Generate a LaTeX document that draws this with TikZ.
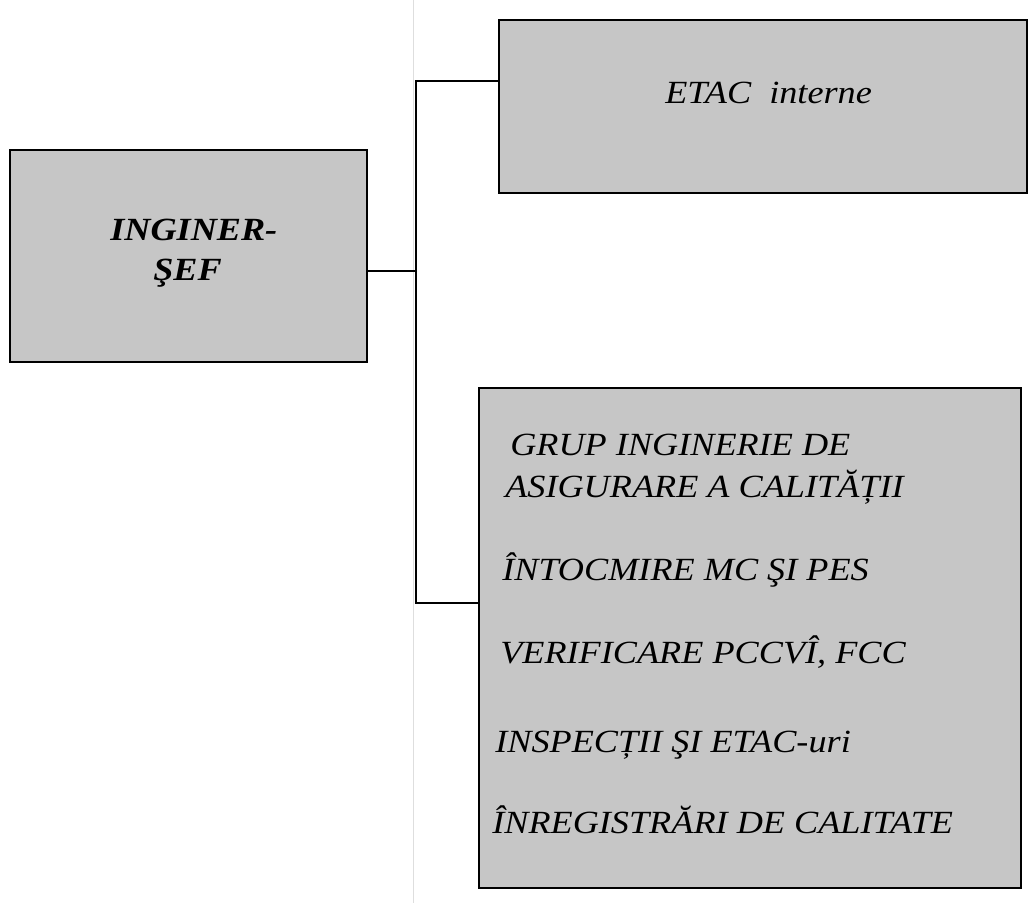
\documentclass[tikz,border=0pt]{standalone}
\usepackage{fontspec}
\setmainfont{Liberation Serif}[FakeStretch=1.12]
\definecolor{boxgray}{RGB}{198,198,198}
\definecolor{foldgray}{RGB}{222,222,222}
\tikzset{
  box/.style={draw=black, fill=boxgray, line width=0.05cm, inner sep=0pt},
  label/.style={anchor=base west, inner sep=0pt},
  link/.style={line width=0.05cm, line cap=round}
}
\begin{document}
\begin{tikzpicture}[x=0.025cm, y=-0.025cm]
                        \useasboundingbox (0,0) rectangle (1032,903);
                        {\fontsize{23}{27}\selectfont\itshape

                        % Scan fold line
                        \draw [foldgray, line width=0.02cm] (413,0) -- (413,903);%

                        % Drawing box INGINER-SEF
                        \draw (188.5,256) node (sef) [box, minimum width=8.925cm, minimum height=5.3cm] {};%
                        \draw (110,240) node (sefa) [label] {\bfseries INGINER-};%
                        \draw (153,280) node (sefb) [label] {\bfseries ŞEF};%

                        % Drawing box ETAC interne
                        \draw (763,106.5) node (etac) [box, minimum width=13.2cm, minimum height=4.325cm] {};%
                        \draw (665,103) node (etact) [label] {ETAC\ \ interne};%

                        % Drawing box of the quality group
                        \draw (750,638) node (grup) [box, minimum width=13.55cm, minimum height=12.5cm] {};%
                        \draw (510,455) node (grupa) [label] {GRUP INGINERIE DE};%
                        \draw (505,497) node (grupb) [label] {ASIGURARE A CALITĂȚII};%
                        \draw (502,580) node (grupc) [label] {ÎNTOCMIRE MC ŞI PES};%
                        \draw (500,663) node (grupd) [label] {VERIFICARE PCCVÎ, FCC};%
                        \draw (495,752) node (grupe) [label] {INSPECȚII ŞI ETAC-uri};%
                        \draw (492,833) node (grupf) [label] {ÎNREGISTRĂRI DE CALITATE};%

                        % Junction points on the bus
                        \coordinate (jtop) at (416,81);%
                        \coordinate (jmid) at (416,271);%
                        \coordinate (jbot) at (416,603);%

                        % Drawing lines
                        \draw [link] (sef.east |- jmid) -- (jmid);%
                        \draw [link] (etac.west |- jtop) -- (jtop) -- (jbot) -- (grup.west |- jbot);%
                        }
\end{tikzpicture}
\end{document}
